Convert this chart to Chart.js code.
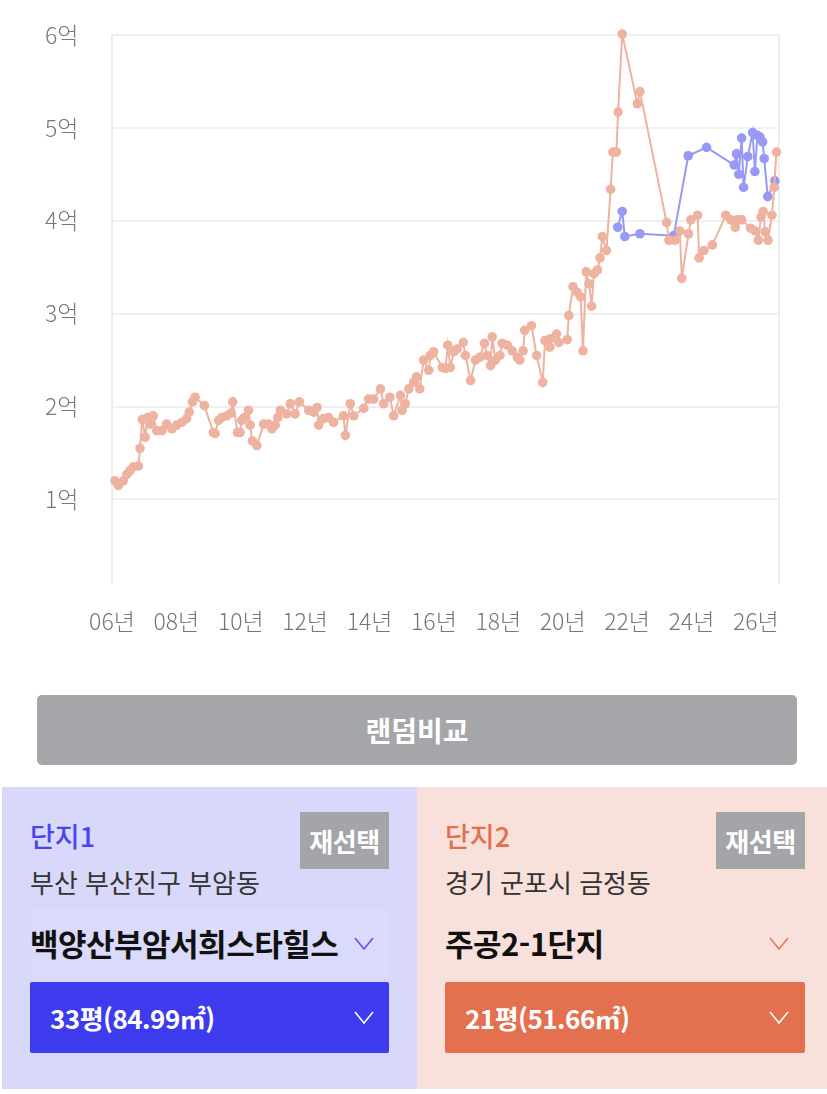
<!DOCTYPE html>
<html lang="ko">
<head>
<meta charset="utf-8">
<script src="https://cdn.jsdelivr.net/npm/chart.js@4.4.1/dist/chart.umd.min.js"></script>
<style>
  html, body { margin: 0; padding: 0; background: #fff; }
  body { width: 827px; height: 1094px; position: relative; overflow: hidden;
         font-family: 'Noto Sans CJK KR', 'Noto Sans', sans-serif; }
  #chartBox { position: absolute; left: 0; top: 0; width: 827px; height: 660px; }
  #randBtn { position: absolute; left: 37px; top: 695px; width: 760px; height: 70px;
             background: #a5a6aa; border-radius: 5px; color: #fff; font-size: 28px;
             font-weight: 700; line-height: 70px; text-align: center; }
  .panel { position: absolute; top: 787px; height: 302px; }
  #p1 { left: 2px; width: 415px; background: #d8d8fa; }
  #p2 { left: 417px; width: 410px; background: #f8e0db; }
  .label { position: absolute; left: 28px; top: 31px; height: 36px; line-height: 36px;
           font-size: 27px; font-weight: 500; }
  #p1 .label { color: #4a44ee; }
  #p2 .label { color: #e46f4e; }
  .resel { position: absolute; top: 25px; width: 89px; height: 57px; background: #a4a5a9;
           color: #fff; font-size: 26px; font-weight: 700; line-height: 57px; text-align: center;
           letter-spacing: -0.5px; }
  #p1 .resel { left: 298px; }
  #p2 .resel { left: 299px; }
  .addr { position: absolute; left: 28px; top: 77px; height: 36px; line-height: 36px;
          font-size: 26px; color: #333; }
  .band { position: absolute; left: 28px; top: 121px; height: 70px; }
  #p1 .band { width: 359px; background: rgba(255,255,255,0.06); }
  #p2 .band { width: 360px; background: rgba(255,255,255,0.06); }
  .name { position: absolute; left: 0; top: 0; height: 70px; line-height: 70px;
          font-size: 31px; font-weight: 700; color: #111; letter-spacing: -0.5px; }
  .chev { position: absolute; left: 324px; top: 29px; }
  .size { position: absolute; left: 28px; top: 195px; height: 71px; border-radius: 2px; }
  #p1 .size { width: 359px; background: #3e3aee; }
  #p2 .size { width: 360px; background: #e3704f; }
  .size span { position: absolute; left: 20px; top: 0; line-height: 71px; color: #fff;
               font-size: 26px; font-weight: 700; letter-spacing: -0.5px; }
  .size svg { position: absolute; left: 324px; top: 29px; }
</style>
</head>
<body>
<div id="chartBox"><canvas id="priceChart"></canvas></div>

<div id="randBtn">랜덤비교</div>

<div class="panel" id="p1">
  <div class="label">단지1</div>
  <div class="resel">재선택</div>
  <div class="addr">부산 부산진구 부암동</div>
  <div class="band">
    <div class="name">백양산부암서희스타힐스</div>
    <svg class="chev" width="20" height="13"><polyline points="1,1 10,12 19,1" fill="none" stroke="#5b57f0" stroke-width="1.6"/></svg>
  </div>
  <div class="size"><span>33평(84.99㎡)</span>
    <svg width="20" height="13"><polyline points="1,1 10,12 19,1" fill="none" stroke="#fff" stroke-width="1.6"/></svg>
  </div>
</div>

<div class="panel" id="p2">
  <div class="label">단지2</div>
  <div class="resel">재선택</div>
  <div class="addr">경기 군포시 금정동</div>
  <div class="band">
    <div class="name">주공2-1단지</div>
    <svg class="chev" width="20" height="13"><polyline points="1,1 10,12 19,1" fill="none" stroke="#e8785a" stroke-width="1.6"/></svg>
  </div>
  <div class="size"><span>21평(51.66㎡)</span>
    <svg width="20" height="13"><polyline points="1,1 10,12 19,1" fill="none" stroke="#fff" stroke-width="1.6"/></svg>
  </div>
</div>

<script>
// 단지2 (주공2-1단지) 실거래 - 연도(소수), 가격(억)
const orangeYears = [
  2006.09, 2006.20, 2006.35, 2006.46, 2006.56, 2006.66, 2006.82, 2006.87, 2006.94, 2007.03,
  2007.11, 2007.18, 2007.28, 2007.39, 2007.55, 2007.70, 2007.86, 2008.01, 2008.17, 2008.32,
  2008.40, 2008.50, 2008.58, 2008.87, 2009.15, 2009.20, 2009.31, 2009.41, 2009.57, 2009.70,
  2009.75, 2009.90, 2009.98, 2010.03, 2010.11, 2010.24, 2010.29, 2010.36, 2010.50, 2010.71,
  2010.86, 2010.97, 2011.07, 2011.15, 2011.23, 2011.43, 2011.54, 2011.69, 2011.82, 2012.11,
  2012.26, 2012.37, 2012.42, 2012.57, 2012.73, 2012.88, 2013.19, 2013.25, 2013.40, 2013.51,
  2013.82, 2013.97, 2014.13, 2014.34, 2014.44, 2014.63, 2014.75, 2014.96, 2015.01, 2015.11,
  2015.22, 2015.37, 2015.46, 2015.56, 2015.68, 2015.84, 2015.89, 2015.99, 2016.26, 2016.36,
  2016.43, 2016.51, 2016.62, 2016.72, 2016.91, 2016.98, 2017.14, 2017.29, 2017.42, 2017.57,
  2017.65, 2017.76, 2017.81, 2017.91, 2018.05, 2018.12, 2018.28, 2018.43, 2018.59, 2018.67,
  2018.77, 2018.82, 2019.03, 2019.19, 2019.38, 2019.45, 2019.60, 2019.62, 2019.81, 2019.88,
  2020.14, 2020.19, 2020.32, 2020.45, 2020.56, 2020.63, 2020.73, 2020.82, 2020.90, 2020.97,
  2021.08, 2021.16, 2021.23, 2021.36, 2021.49, 2021.56, 2021.67, 2021.72, 2021.85, 2022.32,
  2022.40, 2023.23, 2023.30, 2023.49, 2023.64, 2023.70, 2023.91, 2023.98, 2024.19, 2024.24,
  2024.39, 2024.65, 2025.07, 2025.22, 2025.36, 2025.43, 2025.56, 2025.84, 2025.98, 2026.08,
  2026.16, 2026.23, 2026.29, 2026.38, 2026.50, 2026.57, 2026.64
];
const orangePrices = [
  1.20, 1.15, 1.20, 1.27, 1.31, 1.35, 1.36, 1.55, 1.86, 1.67,
  1.88, 1.81, 1.90, 1.74, 1.74, 1.81, 1.76, 1.80, 1.83, 1.87,
  1.94, 2.05, 2.10, 2.01, 1.72, 1.71, 1.85, 1.88, 1.90, 1.93,
  2.05, 1.72, 1.72, 1.85, 1.88, 1.96, 1.80, 1.63, 1.58, 1.81,
  1.81, 1.76, 1.80, 1.88, 1.96, 1.92, 2.03, 1.92, 2.05, 1.96,
  1.94, 1.99, 1.80, 1.87, 1.88, 1.83, 1.90, 1.69, 2.03, 1.90,
  1.98, 2.08, 2.08, 2.19, 2.03, 2.10, 1.90, 2.12, 1.96, 2.03,
  2.19, 2.26, 2.32, 2.19, 2.50, 2.39, 2.55, 2.59, 2.42, 2.41,
  2.66, 2.42, 2.59, 2.62, 2.69, 2.55, 2.28, 2.50, 2.53, 2.68,
  2.55, 2.44, 2.75, 2.50, 2.55, 2.68, 2.66, 2.60, 2.53, 2.50,
  2.60, 2.82, 2.87, 2.55, 2.26, 2.71, 2.64, 2.73, 2.78, 2.69,
  2.72, 2.98, 3.29, 3.23, 3.18, 2.60, 3.45, 3.32, 3.08, 3.43,
  3.47, 3.60, 3.83, 3.68, 4.34, 4.74, 4.74, 5.17, 6.01, 5.26,
  5.39, 3.98, 3.79, 3.79, 3.89, 3.38, 3.86, 4.01, 4.06, 3.60,
  3.68, 3.74, 4.06, 4.01, 3.93, 4.01, 4.01, 3.92, 3.89, 3.79,
  4.04, 4.10, 3.88, 3.79, 4.06, 4.36, 4.74
];

// 단지1 (백양산부암서희스타힐스)
const blueYears = [
  2021.71, 2021.85, 2021.93, 2022.40, 2023.45, 2023.90, 2024.47, 2025.33, 2025.40, 2025.47,
  2025.56, 2025.62, 2025.75, 2025.90, 2025.97, 2026.05, 2026.13, 2026.21, 2026.26, 2026.37,
  2026.59
];
const bluePrices = [
  3.93, 4.10, 3.83, 3.86, 3.84, 4.70, 4.79, 4.60, 4.72, 4.50,
  4.89, 4.36, 4.69, 4.95, 4.53, 4.92, 4.90, 4.85, 4.67, 4.26,
  4.43
];

const yUnit = '억';
const xUnit = '년';

const orangeColor = '#eeb2a0';
const blueColor = '#9899f5';
const tickFont = { family: "'Noto Sans CJK KR', sans-serif", size: 23, weight: 300 };

function toPoints(xs, ys) {
  return xs.map((x, i) => ({ x: x, y: ys[i] }));
}

new Chart(document.getElementById('priceChart'), {
  type: 'line',
  data: {
    datasets: [{
      label: '단지2',
      data: toPoints(orangeYears, orangePrices),
      borderColor: orangeColor,
      backgroundColor: orangeColor,
      pointBackgroundColor: orangeColor,
      borderWidth: 2,
      pointRadius: 4.8,
      pointBorderWidth: 0,
      tension: 0,
      clip: false
    }, {
      label: '단지1',
      data: toPoints(blueYears, bluePrices),
      borderColor: blueColor,
      backgroundColor: blueColor,
      pointBackgroundColor: blueColor,
      borderWidth: 2,
      pointRadius: 4.8,
      pointBorderWidth: 0,
      tension: 0,
      clip: false
    }]
  },
  options: {
    responsive: true,
    maintainAspectRatio: false,
    animation: false,
    layout: { padding: { top: 35, left: 45, right: 48, bottom: 0 } },
    plugins: {
      legend: { display: false },
      tooltip: { enabled: false }
    },
    scales: {
      x: {
        type: 'linear',
        min: 2006,
        max: 2026.72,
        border: { display: false },
        grid: { display: false },
        ticks: {
          stepSize: 2,
          includeBounds: false,
          autoSkip: false,
          maxRotation: 0,
          padding: 16,
          color: '#777',
          font: tickFont,
          callback: v => String(v).slice(2) + xUnit
        },
        afterFit: s => { s.height = 77; }
      },
      y: {
        min: 0.1,
        max: 6,
        border: { display: true, color: '#ededed', width: 2 },
        grid: { color: '#f0f0f0', lineWidth: 2, drawTicks: false },
        ticks: {
          stepSize: 1,
          includeBounds: false,
          padding: 0,
          crossAlign: 'far',
          color: '#777',
          font: tickFont,
          callback: v => v + yUnit
        },
        afterFit: s => { s.width = 67; }
      },
      y2: {
        position: 'right',
        display: true,
        min: 0,
        max: 1,
        ticks: { display: false },
        grid: { display: false, drawTicks: false },
        border: { display: true, color: '#ededed', width: 2 },
        afterFit: s => { s.width = 0; }
      }
    }
  }
});
</script>
</body>
</html>
